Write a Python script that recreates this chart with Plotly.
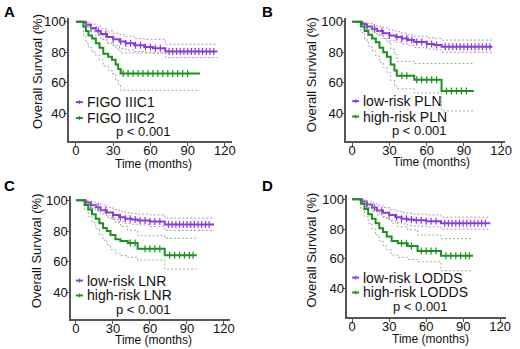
import plotly.graph_objects as go

# ---------------- data ----------------
# Panel A : FIGO IIIC1 vs IIIC2
A_low_t  = [0, 4, 8, 12, 16, 20, 25, 30, 35, 40, 47, 55, 62, 72, 114]
A_low_s  = [100, 100, 98, 96, 94, 92, 90, 88.5, 87, 86, 84.6, 83.5, 82.6, 80.5, 80.5]
A_low_up = [100, 100, 99.5, 98.5, 97, 95.5, 94, 92.5, 91.5, 90.5, 89, 88.5, 88.5, 85.2, 85.2]
A_low_lo = [100, 100, 96.5, 93.5, 91, 88.5, 86, 84.5, 82.5, 81.5, 80.5, 80, 79.5, 76.5, 76.5]
A_high_t  = [0, 4, 6, 8, 10, 13, 16, 19, 22, 26, 29, 32, 34, 36, 100]
A_high_s  = [100, 100, 97, 94, 91, 89, 86, 83, 79, 77, 75, 72, 69, 66, 66]
A_high_up = [100, 100, 99, 98, 96.5, 95, 93, 91, 88, 86, 84.5, 82.5, 81, 79.5, 79.5]
A_high_lo = [100, 100, 90, 86, 83, 80, 78, 75, 71, 68, 66, 62, 59, 55, 55]
A_low_cens  = [12, 18, 24, 30, 36, 40, 44, 48, 52, 56, 60, 64, 68, 75, 78, 81, 84, 87, 90, 93, 96, 99, 102, 105, 108, 111]
A_high_cens = [38, 42, 46, 50, 54, 58, 62, 66, 70, 74, 78, 82, 86, 90]

# Panel B : low-risk vs high-risk PLN
B_low_t  = [0, 5, 8, 12, 16, 20, 25, 30, 35, 40, 45, 50, 60, 66, 72, 113]
B_low_s  = [100, 100, 98.5, 97, 95.5, 94, 92.5, 91, 90, 89, 88, 86.8, 85.5, 84.8, 83.7, 83.7]
B_low_up = [100, 100, 99.5, 99, 98, 97, 96, 94.5, 93.5, 92.5, 91.5, 90.5, 89.5, 89, 88, 88]
B_low_lo = [100, 100, 97.5, 95, 93, 91, 89, 87.5, 86.5, 85.5, 84.5, 83, 82, 81.5, 80, 80]
B_high_t  = [0, 5, 7, 10, 13, 16, 19, 22, 25, 28, 31, 34, 36, 50, 72, 98]
B_high_s  = [100, 100, 97, 94, 91.5, 89, 86.5, 83, 80, 77, 72, 68, 64.5, 62, 54.6, 54.6]
B_high_up = [100, 100, 99.5, 99, 97.5, 96, 94, 91.5, 89, 86.5, 82, 78.5, 74, 72.6, 72.6, 72.6]
B_high_lo = [100, 100, 93, 88, 84, 81, 77.5, 73.5, 70, 66.5, 61.5, 58, 56, 53.3, 41.4, 41.4]
B_low_cens  = [12, 18, 24, 30, 36, 40, 44, 48, 52, 56, 60, 64, 68, 75, 78, 81, 84, 87, 90, 93, 96, 99, 102, 105, 108, 111]
B_high_cens = [40, 44, 52, 56, 60, 64, 68, 76, 80, 84, 88, 92]

# Panel C : low-risk vs high-risk LNR
C_low_t  = [0, 5, 8, 12, 16, 20, 25, 30, 35, 40, 45, 50, 60, 72, 112]
C_low_s  = [100, 100, 98.5, 97, 95.5, 93.5, 92, 90.5, 89, 88, 87.5, 86.9, 86.2, 84.3, 84.3]
C_low_up = [100, 100, 99.5, 99, 98, 97, 95.5, 94, 93, 92, 91.5, 91, 90.5, 88.5, 88.5]
C_low_lo = [100, 100, 97.5, 95, 93, 91, 89, 87.5, 86, 85, 84.5, 84, 83, 80.4, 80.4]
C_high_t  = [0, 5, 7, 10, 13, 16, 19, 22, 25, 28, 32, 36, 42, 50, 72, 98]
C_high_s  = [100, 100, 97, 94, 91, 88, 85, 82, 80, 77.5, 74.6, 73.5, 72.3, 68.5, 64.3, 64.3]
C_high_up = [100, 100, 99.5, 99, 97.5, 96, 94, 92, 90, 88, 85.5, 83, 80.5, 77, 75.3, 75.3]
C_high_lo = [100, 100, 94, 89.5, 85.5, 81.5, 77.5, 74, 71, 68, 65.5, 64, 63, 61.1, 55.3, 55.3]
C_low_cens  = [12, 18, 24, 30, 36, 40, 44, 48, 52, 56, 60, 64, 68, 75, 78, 81, 84, 87, 90, 93, 96, 99, 102, 105, 108]
C_high_cens = [44, 48, 56, 60, 64, 68, 76, 80, 84, 88, 92, 95]

# Panel D : low-risk vs high-risk LODDS
D_low_t  = [0, 5, 8, 12, 16, 20, 25, 30, 35, 40, 45, 50, 60, 72, 112]
D_low_s  = [100, 100, 98.5, 96.5, 94.5, 92.5, 91, 89.5, 88, 87, 86.5, 86, 85.3, 84, 84]
D_low_up = [100, 100, 99.5, 98.5, 97.5, 96, 94.5, 93, 92, 91, 90.5, 90, 89.5, 88, 88]
D_low_lo = [100, 100, 97, 94.5, 92, 89.5, 87.5, 86, 84.5, 83.5, 82.5, 82, 81.5, 80, 80]
D_high_t  = [0, 5, 7, 10, 13, 16, 19, 22, 25, 28, 32, 37, 45, 53, 72, 98]
D_high_s  = [100, 100, 97, 93.5, 90, 87, 84, 80.5, 78, 75, 72, 70.5, 68.7, 65.3, 62, 62]
D_high_up = [100, 100, 99.5, 98.5, 97, 95, 93, 90.5, 88.5, 86.5, 84, 81.5, 79.5, 76, 73.6, 73.6]
D_high_lo = [100, 100, 93.5, 88.5, 84, 80, 76, 72, 69, 66, 62.5, 61, 59.5, 58, 52, 52]
D_low_cens  = [12, 18, 24, 30, 36, 40, 44, 48, 52, 56, 60, 64, 68, 75, 78, 81, 84, 87, 90, 93, 96, 99, 102, 105, 108]
D_high_cens = [40, 44, 48, 56, 60, 64, 68, 76, 80, 84, 88, 92, 95]

panel_letters = ["A", "B", "C", "D"]
legend_labels = [["FIGO IIIC1", "FIGO IIIC2"],
                 ["low-risk PLN", "high-risk PLN"],
                 ["low-risk LNR", "high-risk LNR"],
                 ["low-risk LODDS", "high-risk LODDS"]]
p_text = "p < 0.001"
x_ticks = [0, 30, 60, 90, 120]
y_ticks = [40, 60, 80, 100]

# ---------------- style ----------------
PURPLE = "#8A3CD6"
PURPLE_CI = "#B58AE0"
GREEN = "#1F8F1F"
GREEN_CI = "#8FB48F"
AXIS = "#555555"
FONT = "Liberation Sans, Arial, sans-serif"

fig = go.Figure()

panels = [
    dict(low=(A_low_t, A_low_s, A_low_up, A_low_lo, A_low_cens),
         high=(A_high_t, A_high_s, A_high_up, A_high_lo, A_high_cens),
         xd=(70, 235), yd=(15, 139), xr=(-5.56, 125.6), yr=(21.8, 102.6), xstand=-6),
    dict(low=(B_low_t, B_low_s, B_low_up, B_low_lo, B_low_cens),
         high=(B_high_t, B_high_s, B_high_up, B_high_lo, B_high_cens),
         xd=(351, 512), yd=(15, 139), xr=(-4.77, 123.2), yr=(21.8, 102.6), xstand=-6),
    dict(low=(C_low_t, C_low_s, C_low_up, C_low_lo, C_low_cens),
         high=(C_high_t, C_high_s, C_high_up, C_high_lo, C_high_cens),
         xd=(72, 233), yd=(195, 319), xr=(-4.0, 124.8), yr=(22.6, 102.6), xstand=-7),
    dict(low=(D_low_t, D_low_s, D_low_up, D_low_lo, D_low_cens),
         high=(D_high_t, D_high_s, D_high_up, D_high_lo, D_high_cens),
         xd=(352, 513), yd=(194, 317), xr=(-4.0, 124.8), yr=(20.7, 102.7), xstand=-7),
]

W, H = 520, 349


def step_value(ts, ss, t):
    v = ss[0]
    for ti, si in zip(ts, ss):
        if ti <= t:
            v = si
    return v


annotations = []
shapes = []
layout_axes = {}

for i, p in enumerate(panels):
    n = "" if i == 0 else str(i + 1)
    xa, ya = "x" + n, "y" + n
    for key, col, cicol in (("low", PURPLE, PURPLE_CI), ("high", GREEN, GREEN_CI)):
        ts, ss, up, lo, cens = p[key]
        for band in (up, lo):
            fig.add_trace(go.Scatter(x=ts, y=band, mode="lines", line_shape="hv",
                                     line=dict(color=cicol, width=1, dash="2px,2px"),
                                     xaxis=xa, yaxis=ya, showlegend=False, hoverinfo="skip"))
        fig.add_trace(go.Scatter(x=ts, y=ss, mode="lines", line_shape="hv",
                                 line=dict(color=col, width=2),
                                 xaxis=xa, yaxis=ya, showlegend=False))
        fig.add_trace(go.Scatter(x=cens, y=[step_value(ts, ss, c) for c in cens], mode="markers",
                                 marker=dict(symbol="line-ns", size=5,
                                             line=dict(color=col, width=1.2)),
                                 xaxis=xa, yaxis=ya, showlegend=False, hoverinfo="skip"))
    x0, x1 = p["xd"]
    y0, y1 = p["yd"]
    common = dict(showline=True, linecolor=AXIS, linewidth=1.5, ticks="outside", ticklen=3,
                  tickcolor=AXIS, tickwidth=1.2, showgrid=False, zeroline=False,
                  tickfont=dict(family=FONT, size=13, color="#111111"))
    layout_axes["xaxis" + n] = dict(domain=[x0 / W, x1 / W], range=list(p["xr"]), anchor=ya,
                                    tickvals=x_ticks, ticklabelstandoff=p["xstand"], **common)
    layout_axes["yaxis" + n] = dict(domain=[1 - y1 / H, 1 - y0 / H], range=list(p["yr"]), anchor=xa,
                                    tickvals=y_ticks, ticklabelstandoff=-4, **common)

# text positions (pixels) per panel
letter_pos = [(2, 9), (264, 9), (2, 184), (264, 184)]
ytitle_pos = [(38, 69), (316, 72), (37, 250), (316, 249)]
xtitle_pos = [(156, 162), (437, 160.5), (156, 340), (436, 339)]
legend_pos = [(77, 100, 116), (357, 99, 114.5), (77, 280, 295), (357, 277, 292)]
p_pos = [(145, 130), (425, 129), (145, 309), (426, 306)]

for i in range(4):
    lx, ly = letter_pos[i]
    annotations.append(dict(text="<b>" + panel_letters[i] + "</b>", x=lx / W, y=1 - ly / H,
                            xref="paper", yref="paper", xanchor="left", yanchor="middle",
                            showarrow=False, font=dict(family=FONT, size=15, color="black")))
    tx, ty = ytitle_pos[i]
    annotations.append(dict(text="Overall Survival (%)", x=tx / W, y=1 - ty / H, textangle=-90,
                            xref="paper", yref="paper", xanchor="center", yanchor="middle",
                            showarrow=False, font=dict(family=FONT, size=13, color="#111111")))
    tx, ty = xtitle_pos[i]
    annotations.append(dict(text="Time (months)", x=tx / W, y=1 - ty / H,
                            xref="paper", yref="paper", xanchor="center", yanchor="middle",
                            showarrow=False, font=dict(family=FONT, size=12, color="#111111")))
    kx, k1, k2 = legend_pos[i]
    for lab, yy, col in ((legend_labels[i][0], k1, PURPLE), (legend_labels[i][1], k2, GREEN)):
        shapes.append(dict(type="line", xref="paper", yref="paper", x0=kx / W, x1=(kx + 7) / W,
                           y0=1 - yy / H, y1=1 - yy / H, line=dict(color=col, width=2)))
        shapes.append(dict(type="line", xref="paper", yref="paper", x0=(kx + 3.5) / W, x1=(kx + 3.5) / W,
                           y0=1 - (yy - 2) / H, y1=1 - (yy + 2) / H, line=dict(color=col, width=1)))
        annotations.append(dict(text=lab, x=(kx + 9) / W, y=1 - yy / H,
                                xref="paper", yref="paper", xanchor="left", yanchor="middle",
                                showarrow=False, font=dict(family=FONT, size=14, color="#111111")))
    px_, py_ = p_pos[i]
    annotations.append(dict(text=p_text, x=px_ / W, y=1 - py_ / H,
                            xref="paper", yref="paper", xanchor="center", yanchor="middle",
                            showarrow=False, font=dict(family=FONT, size=13, color="#111111")))

fig.update_layout(width=W, height=H, margin=dict(l=0, r=0, t=0, b=0),
                  paper_bgcolor="white", plot_bgcolor="white", showlegend=False,
                  annotations=annotations, shapes=shapes, **layout_axes)

fig.write_html("out.html", config={"displayModeBar": False},
               post_script="document.body.style.margin='0px';document.body.style.overflow='hidden';")
